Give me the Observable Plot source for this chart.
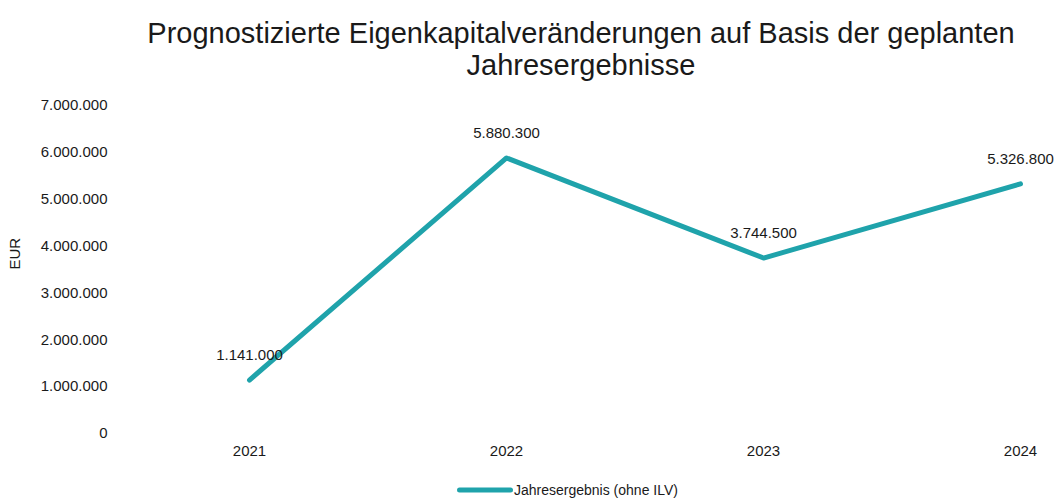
<!DOCTYPE html>
<html>
<head>
<meta charset="utf-8">
<script src="https://cdn.jsdelivr.net/npm/d3@7"></script>
<script src="https://cdn.jsdelivr.net/npm/@observablehq/plot@0.6"></script>
<style>
  body { margin: 0; background: #fff; font-family: "Liberation Sans", Arial, sans-serif; color: #1a1a1a; }
  #wrap { width: 1058px; height: 504px; position: relative; overflow: hidden; }
  #title { position: absolute; top: 17px; left: 0; width: 1058px; box-sizing: border-box; padding-left: 104px; text-align: center; font-size: 29px; line-height: 32px; }
  #chart { position: absolute; top: 88px; left: 0; }
  #legend { position: absolute; top: 482px; left: 457px; display: flex; align-items: center; font-size: 14px; }
  #legend svg { display: block; margin-right: 1px; }
</style>
</head>
<body>
<div id="wrap">
  <div id="title">Prognostizierte Eigenkapitalveränderungen auf Basis der geplanten<br>Jahresergebnisse</div>
  <div id="chart"></div>
  <div id="legend"></div>
</div>
<script>
const years = ["2021", "2022", "2023", "2024"];
const values = [1141000, 5880300, 3744500, 5326800];
const yTicks = [0, 1000000, 2000000, 3000000, 4000000, 5000000, 6000000, 7000000];
const seriesName = "Jahresergebnis (ohne ILV)";
const yLabel = "EUR";
const lineColor = "#1fa3ab";

const de = d3.formatLocale({decimal: ",", thousands: ".", grouping: [3], currency: ["", " €"]});
const fmt = de.format(",d");

const data = years.map((y, i) => ({year: y, value: values[i]}));

const chart = Plot.plot({
  width: 1058,
  height: 380,
  marginLeft: 117,
  marginRight: 37,
  marginTop: 17,
  marginBottom: 35,
  style: {fontFamily: '"Liberation Sans", Arial, sans-serif', fontSize: "15px", color: "#1a1a1a", background: "transparent"},
  x: {type: "point", domain: years, padding: 0, insetLeft: 131, label: null},
  y: {domain: [0, 7000000], label: null},
  marks: [
    Plot.axisX({tickSize: 0, tickPadding: 12, label: null, fontSize: 15}),
    Plot.axisY({ticks: yTicks, tickSize: 0, tickPadding: 10, tickFormat: fmt, label: null, fontSize: 15}),
    Plot.text([yLabel], {frameAnchor: "left", rotate: -90, dx: -102, fontSize: 15}),
    Plot.line(data, {x: "year", y: "value", stroke: lineColor, strokeWidth: 5, strokeLinecap: "round", strokeLinejoin: "round"}),
    Plot.text(data, {x: "year", y: "value", text: d => fmt(d.value), dy: -25, fontSize: 15, fill: "#1a1a1a"})
  ]
});
document.getElementById("chart").appendChild(chart);

const leg = document.getElementById("legend");
leg.innerHTML = `<svg width="56" height="10"><line x1="2.5" y1="5" x2="53.5" y2="5" stroke="${lineColor}" stroke-width="5" stroke-linecap="round"/></svg><span>${seriesName}</span>`;
</script>
</body>
</html>
